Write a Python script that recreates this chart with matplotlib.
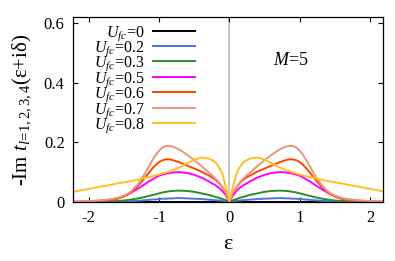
import numpy as np
import matplotlib
matplotlib.use("Agg")
import matplotlib.pyplot as plt

plt.rcParams['font.family'] = ['Liberation Serif', 'DejaVu Serif']
plt.rcParams['mathtext.fontset'] = 'custom'
plt.rcParams['mathtext.rm'] = 'Liberation Serif'
plt.rcParams['mathtext.it'] = 'Liberation Serif:italic'
plt.rcParams['mathtext.bf'] = 'Liberation Serif:bold'

# positive half of the energy grid; the curves are symmetric in epsilon
eps_half = [0.0, 0.025, 0.05, 0.1, 0.15, 0.2, 0.25, 0.3, 0.4, 0.5, 0.6, 0.7, 0.75, 0.8, 0.85,
            0.9, 0.95, 1.0, 1.05, 1.1, 1.15, 1.2, 1.3, 1.4, 1.5, 1.6, 1.7, 1.8, 2.0, 2.2]

u_labels = ['0', '0.2', '0.3', '0.5', '0.6', '0.7', '0.8']
colors = ['#000000', '#4a78dc', '#2e8b2e', '#ff00ff', '#ff4500', '#e9967a', '#ffbf1f']

im_u00 = [0.0] * 30
im_u02 = [0.0, 0.001, 0.002, 0.004, 0.005, 0.006, 0.007, 0.008, 0.010, 0.011, 0.012, 0.013, 0.013,
          0.012, 0.012, 0.011, 0.011, 0.010, 0.009, 0.008, 0.007, 0.006, 0.004, 0.003, 0.002,
          0.001, 0.001, 0.0, 0.0, 0.0]
im_u03 = [0.0, 0.003, 0.006, 0.010, 0.014, 0.017, 0.021, 0.024, 0.029, 0.034, 0.037, 0.038, 0.038,
          0.037, 0.036, 0.034, 0.032, 0.029, 0.026, 0.023, 0.020, 0.017, 0.012, 0.008, 0.005,
          0.003, 0.002, 0.001, 0.0, 0.0]
im_u05 = [0.0, 0.013, 0.022, 0.037, 0.048, 0.056, 0.063, 0.070, 0.082, 0.091, 0.097, 0.100, 0.100,
          0.099, 0.097, 0.095, 0.092, 0.088, 0.082, 0.075, 0.068, 0.060, 0.045, 0.031, 0.020,
          0.012, 0.008, 0.005, 0.002, 0.001]
im_u06 = [0.0, 0.018, 0.030, 0.050, 0.064, 0.075, 0.083, 0.090, 0.102, 0.112, 0.122, 0.132, 0.136,
          0.140, 0.143, 0.143, 0.140, 0.134, 0.124, 0.111, 0.097, 0.082, 0.054, 0.032, 0.018,
          0.010, 0.006, 0.004, 0.001, 0.0]
im_u07 = [0.0, 0.018, 0.030, 0.050, 0.066, 0.079, 0.090, 0.100, 0.121, 0.140, 0.158, 0.174, 0.180,
          0.185, 0.188, 0.188, 0.183, 0.172, 0.157, 0.138, 0.117, 0.096, 0.060, 0.035, 0.021,
          0.013, 0.009, 0.006, 0.003, 0.001]
im_u08 = [0.0, 0.028, 0.050, 0.095, 0.118, 0.133, 0.141, 0.146, 0.149, 0.142, 0.130, 0.117, 0.112,
          0.107, 0.103, 0.099, 0.096, 0.092, 0.089, 0.086, 0.083, 0.081, 0.075, 0.070, 0.066,
          0.062, 0.057, 0.053, 0.044, 0.035]

series = [im_u00, im_u02, im_u03, im_u05, im_u06, im_u07, im_u08]

# full grid: mirror of the half grid
eps = [-e for e in eps_half[::-1]] + eps_half[1:]

fig = plt.figure(figsize=(3.95, 2.61), dpi=100)
ax = fig.add_axes([0.1848, 0.2261, 0.9696 - 0.1848, 0.9349 - 0.2261])

ax.axvline(0, color='#b8b8b8', lw=1.1, zorder=1)
for half, lab, col in zip(series, u_labels, colors):
    vals = half[::-1] + half[1:]
    ax.plot(eps, vals, color=col, lw=1.4, label=r'$U_{fc}$=' + lab, zorder=2)

ax.set_xlim(-2.225, 2.185)
ax.set_ylim(0, 0.62)
ax.set_xticks([-2, -1, 0, 1, 2])
ax.set_xticklabels(['-2', '-1', '0', '1', '2'])
ax.set_yticks([0, 0.2, 0.4, 0.6])
ax.set_yticklabels(['0', '0.2', '0.4', '0.6'])
ax.tick_params(direction='in', length=3.5, width=0.8, top=True, right=True,
               labelsize=12, pad=6)
for s in ax.spines.values():
    s.set_linewidth(0.9)

ax.set_xlabel('ε', fontsize=16, labelpad=6)
ax.set_ylabel(r'-Im $t_{l\!=\!1,2,3,4}$(ε+iδ)', fontsize=15, labelpad=8)

ax.text(0.88, 0.475, r'$M$=5', fontsize=13, ha='center', va='center')

leg = ax.legend(loc='upper right', bbox_to_anchor=(0.392, 0.962), markerfirst=False, frameon=False,
                fontsize=11.5, handlelength=2.6, handletextpad=0.55, labelspacing=-0.2,
                borderaxespad=0.0, borderpad=0.0)

fig.savefig('out.png', dpi=100)
